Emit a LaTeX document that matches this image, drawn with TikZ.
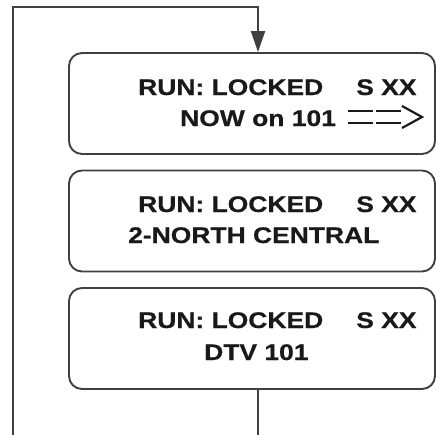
\documentclass[tikz,border=0pt]{standalone}
\usepackage{fontspec}
\setmainfont{Liberation Sans}[FakeStretch=1.17, BoldFeatures={FakeStretch=1.17, FakeBold=0.6}]
\usetikzlibrary{arrows.meta,calc}

\begin{document}
\begin{tikzpicture}[x=1pt,y=-1pt,
  screen/.style={draw=black!75, line width=1.9pt, rounded corners=13pt,
    minimum width=366pt, minimum height=101pt, inner sep=0pt},
  lcd/.style={anchor=base west, inner sep=0pt,
    font=\fontsize{22.6}{26}\selectfont\bfseries, text=black!90},
  link/.style={draw=black!75, line width=1.9pt}]
\useasboundingbox (0,0) rectangle (436,434);

\node[screen] (s1) at (252,103.5) {};
\node[screen] (s2) at (252,221) {};
\node[screen] (s3) at (252,338.5) {};

\node[lcd] (t1) at (138,95) {RUN: LOCKED\hspace{33pt}S XX};
\node[lcd] (u1) at (180,126) {NOW on 101};
\node[lcd] (t2) at (138,212) {RUN: LOCKED\hspace{33pt}S XX};
\node[lcd] (u2) at (128,243) {2-NORTH CENTRAL};
\node[lcd] (t3) at (138,328) {RUN: LOCKED\hspace{33pt}S XX};
\node[lcd] (u3) at (204,360) {DTV 101};

% the ==> sign
\draw[line width=2.2pt, black!90] (348,111) -- (373,111) (376,111) -- (401,111)
  (348,123) -- (373,123) (376,123) -- (401,123);
\draw[line width=2.2pt, black!90] (402,106) -- (422,117) -- (402,128);

\coordinate (rt) at (258,7);
\coordinate (lt) at (13,7);
\coordinate (lb) at (13,436);
\coordinate (bot) at (258,436);

\draw[link] (s3.south -| rt) -- (bot);
\draw[link, -{Triangle[length=21pt,width=14pt]}] (lb) -- (lt) -- (rt) -- (s1.north -| rt);
\end{tikzpicture}
\end{document}
